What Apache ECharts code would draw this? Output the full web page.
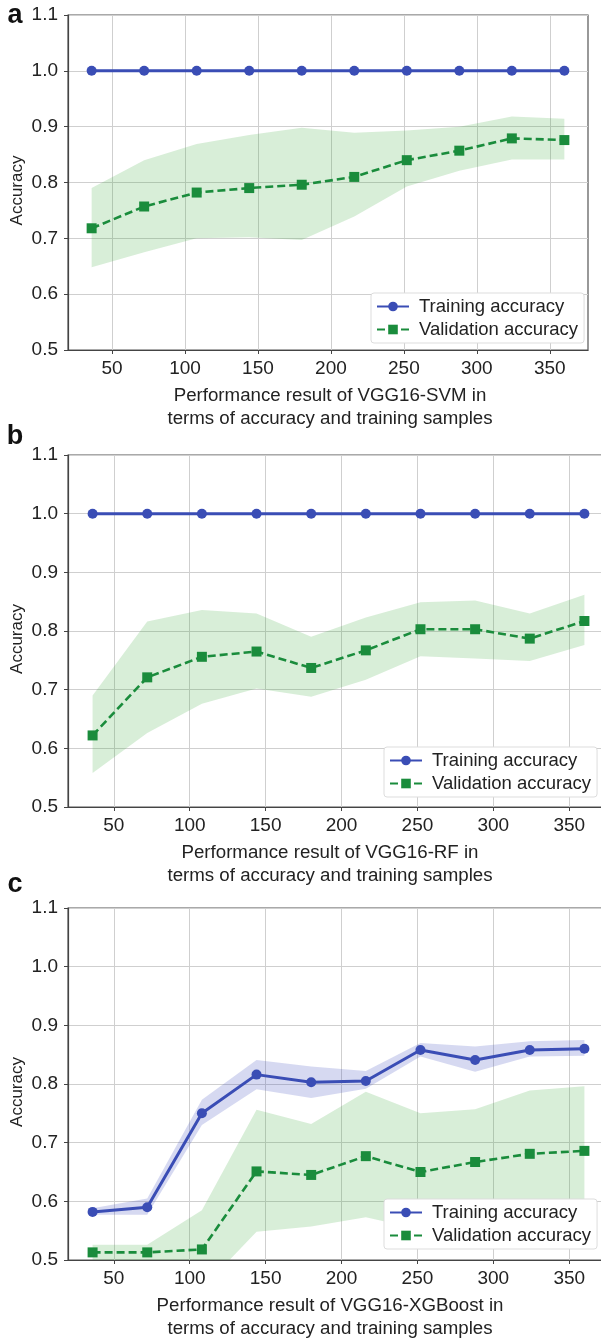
<!DOCTYPE html>
<html>
<head>
<meta charset="utf-8">
<script src="https://cdn.jsdelivr.net/npm/echarts@6/dist/echarts.min.js"></script>
<style>
  html, body { margin: 0; padding: 0; background: #fff; }
  #chart { width: 601px; height: 1343px; }
</style>
</head>
<body>
<div id="chart"></div>
<script>
// training set sizes (x) and axis ticks
const xs = [36, 72, 108, 144, 180, 216, 252, 288, 324, 360];
const xTicks = [50, 100, 150, 200, 250, 300, 350];

// a: VGG16-SVM
const aTrain = [1, 1, 1, 1, 1, 1, 1, 1, 1, 1];
const aVal = [0.718, 0.757, 0.782, 0.790, 0.796, 0.810, 0.840, 0.857, 0.879, 0.876];
const aValLo = [0.648, 0.675, 0.700, 0.702, 0.697, 0.739, 0.793, 0.821, 0.841, 0.841];
const aValHi = [0.790, 0.840, 0.869, 0.885, 0.898, 0.889, 0.893, 0.900, 0.918, 0.914];

// b: VGG16-RF
const bTrain = [1, 1, 1, 1, 1, 1, 1, 1, 1, 1];
const bVal = [0.622, 0.721, 0.756, 0.765, 0.737, 0.767, 0.803, 0.803, 0.787, 0.817];
const bValLo = [0.558, 0.626, 0.676, 0.702, 0.688, 0.717, 0.757, 0.753, 0.749, 0.776];
const bValHi = [0.690, 0.816, 0.836, 0.830, 0.790, 0.823, 0.849, 0.852, 0.830, 0.862];

// c: VGG16-XGBoost
const cTrain = [0.582, 0.590, 0.750, 0.816, 0.803, 0.805, 0.858, 0.841, 0.858, 0.860];
const cTrainLo = [0.577, 0.577, 0.730, 0.791, 0.776, 0.792, 0.847, 0.821, 0.847, 0.848];
const cTrainHi = [0.588, 0.605, 0.773, 0.841, 0.830, 0.822, 0.870, 0.864, 0.873, 0.875];
const cVal = [0.513, 0.513, 0.518, 0.651, 0.645, 0.677, 0.650, 0.667, 0.681, 0.686];
const cValLo = [0.500, 0.500, 0.451, 0.548, 0.557, 0.573, 0.552, 0.570, 0.573, 0.577];
const cValHi = [0.526, 0.526, 0.585, 0.756, 0.732, 0.787, 0.750, 0.757, 0.789, 0.796];

const TRAIN = 'Training accuracy';
const VAL = 'Validation accuracy';
const BLUE = '#3a4db5';
const GREEN = '#1a8c3c';
const FONT = '"Liberation Sans", Arial, sans-serif';

const panels = [
  { letter: 'a', top: 15, height: 335, width: 520, legend: [371, 293], letterY: 16,
    caption: 'Performance result of VGG16-SVM in', train: aTrain, val: aVal, valLo: aValLo, valHi: aValHi },
  { letter: 'b', top: 455, height: 352, width: 541, legend: [384, 747], letterY: 437,
    caption: 'Performance result of VGG16-RF in', train: bTrain, val: bVal, valLo: bValLo, valHi: bValHi },
  { letter: 'c', top: 908, height: 352, width: 541, legend: [384, 1199], letterY: 885,
    caption: 'Performance result of VGG16-XGBoost in', train: cTrain, trainLo: cTrainLo, trainHi: cTrainHi,
    val: cVal, valLo: cValLo, valHi: cValHi },
];

const pairs = (ys) => xs.map((x, i) => [x, ys[i]]);

function band(gi, lo, hi, color) {
  return {
    type: 'custom', xAxisIndex: gi, yAxisIndex: gi, clip: true, silent: true, z: 1,
    data: xs.map((x, i) => [x, lo[i], hi[i]]),
    encode: { x: 0, y: [1, 2] },
    renderItem: (params, api) => {
      if (params.dataIndex !== 0) return null;
      const upper = xs.map((x, i) => api.coord([x, hi[i]]));
      const lower = xs.map((x, i) => api.coord([x, lo[i]])).reverse();
      return { type: 'polygon', shape: { points: upper.concat(lower) }, style: { fill: color } };
    },
  };
}

const grid = [], xAxis = [], yAxis = [], series = [], legend = [], graphic = [];

panels.forEach((p, gi) => {
  grid.push({ left: 68, top: p.top, width: p.width, height: p.height, show: true,
    borderColor: '#555', borderWidth: 1.2, outerBoundsMode: 'none', containLabel: false });
  xAxis.push({
    type: 'value', gridIndex: gi, min: 19.8, max: 376.2,
    axisLine: { show: true, lineStyle: { color: '#444', width: 1.2 } },
    axisTick: { show: true, inside: false, length: 4, customValues: xTicks, lineStyle: { color: '#444' } },
    axisLabel: { customValues: xTicks, fontSize: 19, color: '#222', margin: 9, fontFamily: FONT },
    splitLine: { show: true, lineStyle: { color: '#cfcfcf', width: 1 } },
  });
  yAxis.push({
    type: 'value', gridIndex: gi, min: 0.5, max: 1.1, interval: 0.1,
    axisLine: { show: true, lineStyle: { color: '#444', width: 1.2 } },
    axisTick: { show: true, inside: false, length: 4, lineStyle: { color: '#444' } },
    axisLabel: { fontSize: 19, color: '#222', margin: 10, fontFamily: FONT, formatter: (v) => v.toFixed(1) },
    splitLine: { show: true, lineStyle: { color: '#cfcfcf', width: 1 } },
  });

  series.push(band(gi, p.valLo, p.valHi, 'rgba(60,170,60,0.2)'));
  if (p.trainLo) series.push(band(gi, p.trainLo, p.trainHi, 'rgba(70,80,190,0.22)'));
  series.push({
    name: TRAIN, type: 'line', xAxisIndex: gi, yAxisIndex: gi, data: pairs(p.train), z: 4,
    symbol: 'circle', symbolSize: 10, color: BLUE,
    lineStyle: { color: BLUE, width: 3 }, itemStyle: { color: BLUE },
  });
  series.push({
    name: VAL, type: 'line', xAxisIndex: gi, yAxisIndex: gi, data: pairs(p.val), z: 3,
    symbol: 'rect', symbolSize: 10, color: GREEN,
    lineStyle: { color: GREEN, width: 2.6, type: [8, 4] }, itemStyle: { color: GREEN },
  });

  legend.push({
    data: [TRAIN, VAL], orient: 'vertical', left: p.legend[0], top: p.legend[1],
    itemWidth: 32, itemHeight: 12, itemGap: 4, padding: [4, 6, 4, 5],
    backgroundColor: '#fff', borderColor: '#ddd', borderWidth: 1, borderRadius: 3,
    textStyle: { fontSize: 18.5, color: '#222', fontFamily: FONT, padding: [0, 0, 0, 5] },
    selectedMode: false,
  });

  const capY = p.top + p.height + 46;
  graphic.push(
    { type: 'text', x: 15, y: p.letterY,
      style: { text: p.letter, font: 'bold 27px ' + FONT, fill: '#111',
        textAlign: 'center', textVerticalAlign: 'middle', align: 'center', verticalAlign: 'middle' } },
    { type: 'text', x: 17, y: p.top + p.height / 2 + 8, rotation: Math.PI / 2,
      style: { text: 'Accuracy', font: '17px ' + FONT, fill: '#222',
        textAlign: 'center', textVerticalAlign: 'middle', align: 'center', verticalAlign: 'middle' } },
    { type: 'text', x: 330, y: capY,
      style: { text: p.caption, font: '18.7px ' + FONT, fill: '#222',
        textAlign: 'center', textVerticalAlign: 'middle', align: 'center', verticalAlign: 'middle' } },
    { type: 'text', x: 330, y: capY + 23,
      style: { text: 'terms of accuracy and training samples', font: '18.7px ' + FONT, fill: '#222',
        textAlign: 'center', textVerticalAlign: 'middle', align: 'center', verticalAlign: 'middle' } }
  );
});

const chart = echarts.init(document.getElementById('chart'), null, { renderer: 'canvas' });
chart.setOption({
  animation: false,
  backgroundColor: '#fff',
  grid, xAxis, yAxis, series, legend, graphic,
});
</script>
</body>
</html>
